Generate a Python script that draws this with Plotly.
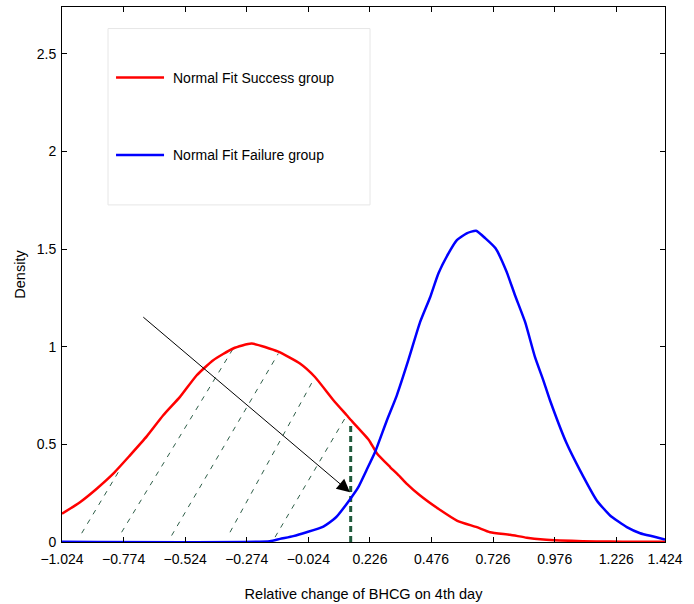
import plotly.graph_objects as go

# ---- data ----
success_x = [-1.024, -0.951, -0.883, -0.816, -0.748, -0.680, -0.613, -0.545, -0.477, -0.410,
             -0.329, -0.254, -0.146, -0.058, 0.003, 0.078, 0.132, 0.145, 0.221, 0.254,
             0.308, 0.348, 0.376, 0.430, 0.504, 0.579, 0.660, 0.714, 0.795, 0.863,
             0.930, 0.998, 1.090, 1.200, 1.300, 1.424]
success_y = [0.145, 0.204, 0.273, 0.350, 0.444, 0.541, 0.649, 0.743, 0.854, 0.931,
             0.991, 1.016, 0.975, 0.914, 0.845, 0.726, 0.649, 0.630, 0.524, 0.455,
             0.384, 0.335, 0.298, 0.238, 0.170, 0.110, 0.076, 0.050, 0.037, 0.022,
             0.013, 0.008, 0.004, 0.002, 0.001, 0.001]

failure_x = [-1.024, -0.180, -0.139, -0.085, -0.031, 0.037, 0.078, 0.091, 0.145, 0.179,
             0.213, 0.247, 0.294, 0.335, 0.382, 0.430, 0.471, 0.504, 0.545, 0.579,
             0.619, 0.657, 0.695, 0.736, 0.781, 0.815, 0.856, 0.896, 0.930, 0.957,
             1.025, 1.079, 1.147, 1.201, 1.269, 1.323, 1.377, 1.424]
failure_y = [0.001, 0.004, 0.016, 0.030, 0.050, 0.079, 0.115, 0.130, 0.218, 0.281,
             0.370, 0.461, 0.620, 0.750, 0.931, 1.127, 1.255, 1.375, 1.478, 1.546,
             1.581, 1.594, 1.555, 1.504, 1.384, 1.264, 1.127, 0.948, 0.828, 0.726,
             0.504, 0.367, 0.213, 0.136, 0.076, 0.045, 0.028, 0.013]

# hatch lines (start x, start y, end x, end y)
hatch_x0 = [-0.944, -0.782, -0.579, -0.342, -0.159]
hatch_y0 = [0.045, 0.050, 0.033, 0.050, 0.025]
hatch_x1 = [-0.791, -0.329, -0.146, 0.003, 0.132]
hatch_y1 = [0.367, 0.991, 0.965, 0.845, 0.649]

cutoff_x = 0.148
cutoff_top = 0.61

arrow_start = (-0.700, 1.158)
arrow_end = (0.145, 0.255)

series_names = ["Normal Fit Success group", "Normal Fit Failure group"]

x_ticks = [-1.024, -0.774, -0.524, -0.274, -0.024, 0.226, 0.476, 0.726, 0.976, 1.226, 1.424]
x_ticklabels = ["\u22121.024", "\u22120.774", "\u22120.524", "\u22120.274", "\u22120.024",
                "0.226", "0.476", "0.726", "0.976", "1.226", "1.424"]
y_ticks = [0, 0.5, 1, 1.5, 2, 2.5]
y_ticklabels = ["0", "0.5", "1", "1.5", "2", "2.5"]

hatch_color = "#2e5e48"
red = "#ff0000"
blue = "#0000ff"

fig = go.Figure()

for i in range(len(hatch_x0)):
    fig.add_trace(go.Scatter(
        x=[hatch_x0[i], hatch_x1[i]], y=[hatch_y0[i], hatch_y1[i]],
        mode="lines", line=dict(color=hatch_color, width=1, dash="5px,6px"),
        showlegend=False, hoverinfo="skip"))

fig.add_trace(go.Scatter(
    x=[cutoff_x, cutoff_x], y=[0, cutoff_top], mode="lines",
    line=dict(color="#1f5a3c", width=3, dash="6px,4px"),
    showlegend=False, hoverinfo="skip"))

fig.add_trace(go.Scatter(
    x=success_x, y=success_y, mode="lines", name=series_names[0],
    line=dict(color=red, width=2.5, shape="spline", smoothing=0.5), showlegend=False))
fig.add_trace(go.Scatter(
    x=failure_x, y=failure_y, mode="lines", name=series_names[1],
    line=dict(color=blue, width=2.5, shape="spline", smoothing=0.5), showlegend=False))

fig.add_annotation(
    x=arrow_end[0], y=arrow_end[1], ax=arrow_start[0], ay=arrow_start[1],
    xref="x", yref="y", axref="x", ayref="y", text="", showarrow=True,
    arrowhead=2, arrowsize=2.6, arrowwidth=1, arrowcolor="black")

# MATLAB-style legend box drawn in paper coordinates
fig.add_shape(type="rect", xref="paper", yref="paper",
              x0=0.0763, x1=0.5108, y0=0.6301, y1=0.9597,
              line=dict(color="#e6e6e6", width=1), fillcolor="white", layer="below")
legend_y = [0.868, 0.7235]
legend_colors = [red, blue]
for name, ly, col in zip(series_names, legend_y, legend_colors):
    fig.add_shape(type="line", xref="paper", yref="paper", x0=0.0896, x1=0.1692,
                  y0=ly, y1=ly, line=dict(color=col, width=2.5))
    fig.add_annotation(xref="paper", yref="paper", x=0.1808, y=ly, text=name,
                       showarrow=False, xanchor="left", yanchor="middle",
                       font=dict(size=14, color="black"))

axis_common = dict(showline=True, linecolor="black", linewidth=1, mirror="allticks",
                   ticks="inside", ticklen=5, tickcolor="black", showgrid=False,
                   zeroline=False, automargin=False,
                   tickfont=dict(size=14, color="black"))

fig.update_layout(
    width=694, height=604,
    margin=dict(l=62, r=29, t=7, b=62),
    paper_bgcolor="white", plot_bgcolor="white",
    font=dict(family="Liberation Sans, Arial, sans-serif", size=14, color="black"),
    xaxis=dict(range=[-1.024, 1.424], tickvals=x_ticks, ticktext=x_ticklabels,
               ticklabelstandoff=4,
               title=dict(text="Relative change of BHCG on 4th day", standoff=23,
                          font=dict(size=14.5)),
               **axis_common),
    yaxis=dict(range=[0, 2.74], tickvals=y_ticks, ticktext=y_ticklabels,
               ticklabelstandoff=2,
               title=dict(text="Density", standoff=7, font=dict(size=14.5)), **axis_common),
    showlegend=False,
)

fig.write_html("out.html", config={"displayModeBar": False},
               post_script="document.body.style.margin='0';")
